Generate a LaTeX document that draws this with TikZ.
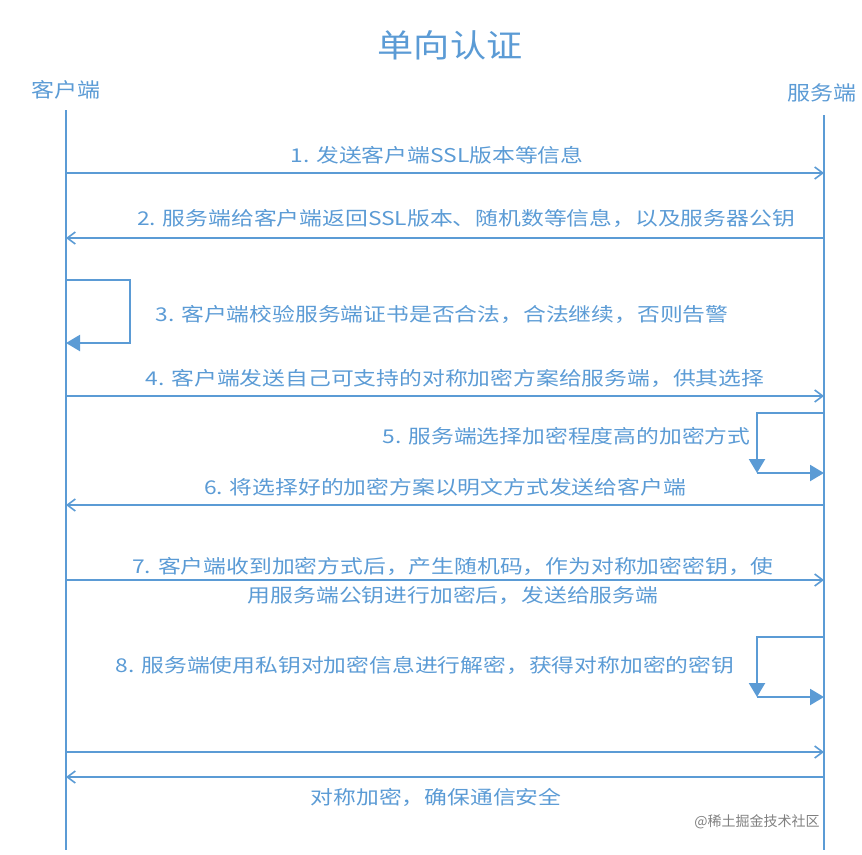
\documentclass[tikz,border=0pt]{standalone}
\usepackage{fontspec}
\setmainfont{Noto Sans CJK SC}
\usetikzlibrary{arrows.meta}
\definecolor{seqblue}{HTML}{5B9BD5}

\begin{document}
\begin{tikzpicture}[x=1pt, y=-1pt,
    lifeline/.style={seqblue, line width=2pt},
    msg/.style={seqblue, line width=1.6pt, -{Straight Barb[length=8pt, width=12pt]}},
    self/.style={seqblue, line width=2.2pt, -{Triangle[length=14pt, width=16pt]}},
    lbl/.style={text=seqblue, font=\fontsize{19}{29}\selectfont, inner sep=1pt, xscale=1.2},
    role/.style={text=seqblue, font=\fontsize{20}{24}\selectfont, xscale=1.15}
]
    \useasboundingbox (0,0) rectangle (862,854);
    \node[text=seqblue, font=\fontsize{32}{36}\selectfont, xscale=1.13] (title) at (450,45) {单向认证};
    \node[role] (client) at (66,90) {客户端};
    \node[role] (server) at (822,93) {服务端};
    % lifelines
    \coordinate (c0) at (66,110);  \coordinate (c1) at (66,850);
    \coordinate (s0) at (824,115); \coordinate (s1) at (824,850);
    \draw[lifeline] (c0) -- (c1);
    \draw[lifeline] (s0) -- (s1);
    % messages
    \foreach \y/\from/\to in {173/66/824, 238/824/66, 396/66/824, 505/824/66,
        580/66/824, 752/66/824, 777/824/66} {
        \coordinate (a) at (\from,\y);
        \coordinate (b) at (\to,\y);
        \draw[msg] (a) -- (b);
    }
    \node[lbl] (m1) at (437,155) {1. 发送客户端SSL版本等信息};
    \node[lbl] (m2) at (466,218) {2. 服务端给客户端返回SSL版本、随机数等信息，以及服务器公钥};
    \node[lbl] (m4) at (455,378) {4. 客户端发送自己可支持的对称加密方案给服务端，供其选择};
    \node[lbl] (m6) at (445,487) {6. 将选择好的加密方案以明文方式发送给客户端};
    \node[lbl, align=center] (m7) at (453,581) {7. 客户端收到加密方式后，产生随机码，作为对称加密密钥，使\\用服务端公钥进行加密后，发送给服务端};
    \node[lbl] (m10) at (436,797) {对称加密，确保通信安全};
    % step 3
    \coordinate (l3a) at (66,280); \coordinate (l3b) at (66,343);
    \draw[self] (l3a) -- (130,280) -- (130,343) -- (l3b);
    \node[lbl] (m3) at (442,314) {3. 客户端校验服务端证书是否合法，合法继续，否则告警};
    % steps 5 and 8
    \foreach \y in {413,637} {
        \coordinate (p) at (824,\y);
        \coordinate (q) at (757,\y+60);
        \coordinate (r) at (824,\y+60);
        \draw[self] (p) -- (757,\y) -- (q);
        \draw[self] (q) -- (r);
    }
    \node[lbl, anchor=east] (m5) at (752,436) {5. 服务端选择加密程度高的加密方式};
    \node[lbl] (m8) at (425,665) {8. 服务端使用私钥对加密信息进行解密，获得对称加密的密钥};
    \node[text=gray, font=\fontsize{14}{16}\selectfont] (mark) at (757,822) {@稀土掘金技术社区};
\end{tikzpicture}
\end{document}
